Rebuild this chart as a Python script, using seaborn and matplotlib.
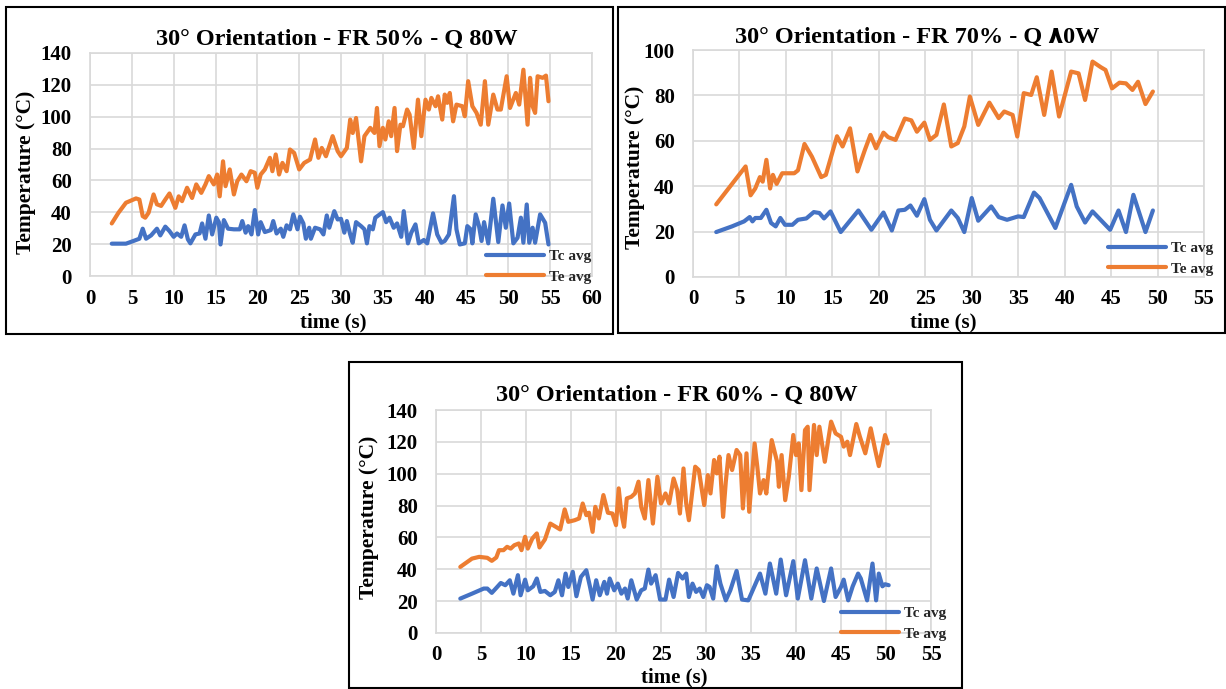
import matplotlib
matplotlib.use("Agg")
import matplotlib.pyplot as plt
import seaborn as sns
from matplotlib.patches import Rectangle

# ---------------- data ----------------
# Panel 1: FR 50%
p1_tc_time = [2.6, 4.3, 5.2, 5.9, 6.3, 6.7, 7.3, 8.0, 8.4, 9.0,
              9.5, 10.0, 10.4, 10.9, 11.3, 11.7, 12.0, 12.6, 13.1, 13.4,
              13.8, 14.2, 14.6, 15.1, 15.4, 15.6, 16.0, 16.5, 17.2, 17.9,
              18.2, 18.6, 18.9, 19.3, 19.7, 20.1, 20.4, 20.9, 21.6, 21.9,
              22.3, 22.8, 23.1, 23.5, 23.9, 24.3, 24.8, 25.1, 25.5, 25.8,
              26.2, 26.4, 26.9, 27.5, 27.9, 28.3, 28.6, 29.2, 29.6, 30.0,
              30.4, 30.7, 31.1, 31.4, 31.8, 32.4, 32.8, 33.1, 33.4, 33.8,
              34.1, 35.0, 35.4, 35.8, 36.3, 36.7, 37.2, 37.5, 38.0, 38.4,
              38.9, 39.3, 39.9, 40.3, 41.0, 41.5, 42.0, 42.4, 42.9, 43.5,
              43.8, 44.2, 44.8, 45.1, 45.5, 45.7, 46.1, 46.5, 46.8, 47.1,
              47.6, 48.2, 48.8, 49.3, 49.7, 50.1, 50.6, 51.1, 51.5, 51.8,
              52.2, 52.5, 52.9, 53.2, 53.8, 54.4, 54.8]
p1_tc = [20.3, 20.3, 22, 23.4, 29.7, 23.4, 25.5, 29.7, 25.5, 31,
         28.2, 24.6, 26.7, 24.6, 31.8, 23, 20.5, 26.1, 26.7, 33,
         23.4, 38, 26.1, 36.6, 33.8, 19.8, 35.1, 29.7, 29.3, 29.3,
         34.5, 27.2, 31.3, 26.1, 41.4, 26.1, 33.8, 27.6, 28.8, 34.5,
         26.7, 29.7, 24.6, 31.8, 29.3, 38.7, 29.3, 37.2, 33, 23.4,
         30.3, 23.4, 30.3, 29.3, 26.1, 38, 30.3, 40.7, 35.5, 35.9,
         27.2, 34.5, 26.1, 20.9, 33.8, 31.3, 29.3, 20.5, 31.3, 29.3,
         36.6, 40.1, 33.8, 36.6, 30.3, 33, 24.6, 40.7, 20.5, 27.2,
         32.4, 20.5, 22.6, 20.5, 39.3, 26.1, 20.9, 22, 26.1, 50.1,
         29.3, 19.8, 20.5, 31.3, 29.3, 20.5, 38.7, 31.3, 22, 33.8,
         20.5, 48.5, 21.3, 44.3, 30.3, 45.5, 20.5, 24, 36.6, 20.9,
         44.9, 20.9, 30.3, 20.9, 38.7, 33.4, 19.8]
p1_te_time = [2.6, 3.4, 4.3, 5.5, 5.9, 6.3, 6.6, 7.0, 7.6, 8.0,
              8.5, 9.0, 9.5, 10.2, 10.6, 11.0, 11.6, 12.2, 12.7, 13.3,
              13.8, 14.2, 14.8, 15.2, 15.5, 15.9, 16.2, 16.7, 17.2, 17.6,
              18.1, 18.7, 19.2, 19.7, 20.0, 20.4, 20.9, 21.5, 21.8, 22.2,
              22.6, 23.0, 23.5, 23.9, 24.4, 25.0, 25.6, 26.3, 26.9, 27.3,
              27.7, 28.2, 29.0, 29.6, 30.0, 30.7, 31.1, 31.4, 31.8, 32.4,
              32.8, 33.5, 34.0, 34.3, 34.6, 35.0, 35.3, 35.7, 36.0, 36.4,
              36.7, 37.1, 37.4, 37.9, 38.2, 38.7, 39.2, 39.6, 40.1, 40.5,
              40.8, 41.3, 41.6, 42.1, 42.4, 42.7, 43.0, 43.4, 43.8, 44.5,
              44.8, 45.2, 45.7, 46.2, 46.7, 47.2, 47.6, 48.2, 48.7, 49.1,
              49.8, 50.2, 50.9, 51.3, 51.8, 52.3, 52.6, 52.9, 53.2, 53.5,
              54.1, 54.5, 54.8]
p1_te = [33, 39.7, 46, 48.7, 48, 37.6, 36.6, 39.7, 51.2, 45,
         44, 48, 51.8, 42.8, 50, 47, 55.4, 49, 57.5, 52.2,
         57.5, 62.7, 57.5, 63.7, 50, 72, 56.4, 66.9, 51.2, 59.5,
         63.7, 59.5, 65.8, 64.8, 55.4, 63.7, 66.9, 74.2, 65.8, 76.3,
         63.7, 71, 65.8, 79.4, 77.3, 66.9, 71, 73.1, 85.7, 74.2,
         80.4, 75.2, 87.8, 78.4, 75.2, 80.4, 98.2, 89.8, 99.2, 72,
         87.8, 93, 89.8, 105.5, 81.5, 93, 85.7, 97.1, 87.8, 105.5,
         78.4, 95, 94, 104.5, 101.3, 80.4, 110.7, 87.8, 110.7, 104.5,
         111.8, 106.6, 112.8, 98.2, 113.9, 108.7, 114.9, 97.1, 107.6, 106.6,
         100.3, 122.3, 106.6, 102.4, 95, 122.3, 95, 113.9, 104.5, 104.5,
         125.4, 105.5, 114.9, 107.6, 129.5, 95, 124.4, 106.6, 102.4, 125.4,
         124.4, 125.8, 109.7]

# Panel 2: FR 70%
p2_tc_time = [2.5, 4.2, 5.5, 6.1, 6.4, 6.7, 7.3, 7.9, 8.4, 8.9,
              9.4, 9.9, 10.7, 11.3, 12.2, 13.0, 13.6, 14.1, 14.8, 15.9,
              17.8, 19.2, 20.5, 21.4, 22.1, 22.8, 23.4, 24.1, 24.9, 25.5,
              26.2, 27.8, 28.5, 29.2, 30.0, 30.7, 32.1, 32.9, 33.8, 35.0,
              35.6, 36.7, 37.3, 39.0, 40.7, 41.3, 42.2, 43.0, 44.9, 45.8,
              46.6, 47.4, 48.7, 49.5]
p2_tc = [19.8, 22.3, 24.5, 26.4, 24.5, 26, 26, 29.6, 23.8, 22.3,
         26, 23, 23, 25.2, 25.8, 28.6, 28.2, 25.8, 28.9, 19.8,
         29.3, 20.8, 28.4, 20.5, 29.3, 29.6, 31.5, 27, 34.3, 25.2,
         20.5, 29.3, 26, 19.8, 34.8, 24.8, 31.1, 26.4, 25.2, 26.7,
         26.4, 37.2, 34.8, 21.6, 40.6, 31.1, 24, 28.9, 20.8, 29.3,
         19.8, 36.2, 19.8, 29.3]
p2_te_time = [2.5, 5.66, 6.2, 6.7, 7.2, 7.5, 7.9, 8.3, 8.6, 9.0,
              9.6, 10.9, 11.3, 12.0, 12.8, 13.8, 14.3, 15.5, 16.1, 16.9,
              17.7, 18.5, 19.1, 19.7, 20.5, 21.0, 21.8, 22.8, 23.5, 24.1,
              24.9, 25.5, 26.2, 27.0, 27.8, 28.5, 29.2, 29.8, 30.7, 31.9,
              32.9, 33.5, 34.4, 34.9, 35.6, 36.4, 37.0, 37.8, 38.6, 39.4,
              40.7, 41.5, 42.2, 43.0, 43.9, 44.4, 45.1, 45.9, 46.6, 47.3,
              47.9, 48.7, 49.5]
p2_te = [32, 48.7, 36, 39, 44, 42, 51.6, 39, 45, 41,
         45.7, 45.7, 47, 58.6, 53, 44, 45, 62, 57.5, 65.5,
         46.5, 56, 62.6, 56.7, 63.6, 61.6, 60.4, 69.8, 69, 64,
         68, 60.4, 62.6, 76, 57.5, 59, 66.3, 79.5, 67, 76.8,
         70, 72.9, 71.4, 61.9, 81, 80.2, 88, 71.4, 90.5, 70.7,
         90.5, 89.7, 78, 94.9, 92.4, 91.2, 83.1, 85.6, 85.3, 82.4,
         86, 76.2, 81.7]

# Panel 3: FR 60%
p3_tc_time = [2.7, 4.0, 5.3, 5.7, 6.2, 6.8, 7.2, 7.7, 8.2, 8.6,
              9.1, 9.4, 9.9, 10.2, 10.8, 11.2, 11.6, 12.1, 12.7, 13.2,
              13.6, 14.0, 14.4, 14.7, 15.2, 15.6, 16.1, 16.7, 17.1, 17.4,
              17.8, 18.2, 18.7, 19.0, 19.3, 19.8, 20.2, 20.6, 21.0, 21.3,
              21.7, 22.3, 22.8, 23.2, 23.6, 23.9, 24.4, 24.9, 25.5, 25.9,
              26.4, 26.9, 27.4, 27.8, 28.1, 28.5, 28.9, 29.3, 29.7, 30.1,
              30.4, 30.8, 31.2, 31.6, 32.2, 32.7, 33.4, 34.0, 34.7, 36.0,
              36.6, 37.1, 37.8, 38.3, 38.9, 39.7, 40.2, 41.0, 41.7, 42.3,
              43.1, 43.9, 44.4, 45.0, 45.3, 45.8, 46.3, 46.9, 47.2, 47.9,
              48.5, 48.9, 49.2, 49.6, 49.9, 50.3]
p3_tc = [21.6, 24.7, 27.9, 27.9, 25.2, 28.9, 31.4, 30, 33.1, 24.7,
         36.3, 23.7, 33.5, 26.8, 29.3, 34.2, 25.8, 26.4, 23.7, 25.8,
         33.1, 23.7, 37.3, 28.9, 38.4, 23.1, 35.2, 39.4, 29.3, 21,
         33.1, 23.7, 32.1, 24.7, 34.2, 26.8, 31, 24.7, 27.9, 21.6,
         33.1, 21, 26.8, 27.9, 39.8, 31, 36.3, 21, 21, 33.5,
         22.6, 37.7, 34.2, 37.3, 22.6, 31, 25.8, 27.9, 22.6, 30,
         28.9, 21.6, 41.9, 31, 20.5, 26.8, 39, 21, 20.5, 37.3,
         24.7, 43.6, 24.7, 46.1, 23.7, 45.1, 21.6, 45.7, 21.6, 40.5,
         20.1, 40.5, 22.6, 28.9, 33.5, 20.5, 29.3, 37.3, 34.2, 20.5,
         43.6, 20.5, 37.3, 29.3, 30.6, 30]
p3_te_time = [2.7, 4.0, 4.8, 5.7, 6.2, 6.7, 7.0, 7.5, 7.9, 8.3,
              8.7, 9.2, 9.5, 9.9, 10.2, 10.7, 11.2, 11.5, 12.1, 12.7,
              13.3, 13.8, 14.3, 14.7, 15.4, 15.9, 16.3, 16.7, 17.0, 17.4,
              17.7, 18.1, 18.6, 19.1, 19.6, 20.0, 20.3, 20.6, 20.9, 21.2,
              21.7, 22.1, 22.5, 22.8, 23.2, 23.6, 24.1, 24.6, 25.0, 25.5,
              25.9, 26.4, 26.8, 27.1, 27.5, 27.8, 28.1, 28.8, 29.2, 29.8,
              30.2, 30.5, 30.9, 31.2, 31.5, 31.9, 32.2, 32.5, 32.9, 33.4,
              33.8, 34.1, 34.5, 34.8, 35.4, 35.7, 36.0, 36.4, 36.7, 37.3,
              37.9, 38.1, 38.4, 38.8, 39.2, 39.7, 40.0, 40.3, 40.6, 41.0,
              41.3, 41.5, 42.0, 42.3, 42.6, 43.2, 43.9, 44.4, 45.0, 45.3,
              45.7, 46.0, 46.7, 47.1, 47.7, 48.3, 48.8, 49.2, 49.9, 50.2]
p3_te = [41.5, 46.7, 47.8, 47.2, 45.3, 47.4, 52, 52, 54.1, 53,
         55.1, 56.2, 52, 60.4, 53, 59.3, 62.5, 53.7, 58.7, 68.7,
         66.7, 65, 77.6, 69.8, 70.8, 71.9, 81.3, 74, 75.5, 63.5,
         79.2, 71.9, 86.6, 75.5, 75, 67.7, 90.8, 75, 66.7, 84.5,
         85.5, 87.6, 95, 79.2, 71.9, 96, 68.7, 98.1, 81.3, 87.6,
         81.3, 97, 89.7, 75, 103.3, 81.3, 70.8, 104.4, 102.3, 80.3,
         99.1, 87.6, 108.6, 100.2, 110.7, 72.9, 95, 111.7, 102.3, 114.9,
         111.7, 78.2, 112.8, 76.1, 119, 104.4, 87.6, 96, 87.6, 121.1,
         107.5, 91.8, 111.7, 83.4, 98.1, 124.3, 111.7, 119, 89.7, 127.4,
         129.5, 89.7, 130.6, 111.7, 129.5, 107.5, 132.7, 125.3, 123.2, 117,
         120.1, 111.7, 131.2, 123.2, 112.8, 128.5, 114.9, 104.8, 124.3, 119]

titles = ["30° Orientation - FR 50% - Q 80W",
          "30° Orientation - FR 70% - Q \u06680W",
          "30° Orientation - FR 60% - Q 80W"]
series_labels = ["Tc avg", "Te avg"]
y_label = "Temperature (°C)"
x_label = "time (s)"

# ---------------- style ----------------
sns.set_theme(style="whitegrid")
plt.rcParams["font.family"] = ["Liberation Serif", "DejaVu Sans"]
plt.rcParams["font.weight"] = "bold"

BLUE = "#4472C4"
ORANGE = "#ED7D31"
GRID = "#d9d9d9"
W, H = 1226, 689

fig = plt.figure(figsize=(W / 100, H / 100), dpi=100)
fig.patch.set_facecolor("white")


def fx(px):
    return px / W


def fy(py):
    return 1 - py / H


layouts = [
    dict(box=(6, 7, 613, 334), ax=(90, 53, 592, 276), xmax=60, ymax=140,
         title=(337, 39), ylab=(26, 172), xlab=(333, 322),
         leg=(486, 266.5)),
    dict(box=(618, 7, 1225, 333), ax=(693, 50, 1204, 277), xmax=55, ymax=100,
         title=(917, 37), ylab=(635, 167), xlab=(943, 322),
         leg=(1108, 258.5)),
    dict(box=(349, 362, 962, 688), ax=(436, 410, 931, 633), xmax=55, ymax=140,
         title=(677, 395), ylab=(369, 517), xlab=(674, 677),
         leg=(841, 623.5)),
]
data = [
    (p1_tc_time, p1_tc, p1_te_time, p1_te),
    (p2_tc_time, p2_tc, p2_te_time, p2_te),
    (p3_tc_time, p3_tc, p3_te_time, p3_te),
]

for i, (lay, (tct, tc, tet, te)) in enumerate(zip(layouts, data)):
    bx0, by0, bx1, by1 = lay["box"]
    fig.add_artist(Rectangle((fx(bx0), fy(by1)), fx(bx1) - fx(bx0), fy(by0) - fy(by1),
                             transform=fig.transFigure, fill=False,
                             edgecolor="black", linewidth=1.5))
    ax0, ay0, ax1, ay1 = lay["ax"]
    ax = fig.add_axes([fx(ax0), fy(ay1), fx(ax1) - fx(ax0), fy(ay0) - fy(ay1)])
    ax.set_facecolor("white")
    sns.lineplot(x=tct, y=tc, ax=ax, color=BLUE, linewidth=3.0, label=series_labels[0],
                 estimator=None, sort=False, solid_joinstyle="round", solid_capstyle="round")
    sns.lineplot(x=tet, y=te, ax=ax, color=ORANGE, linewidth=3.0, label=series_labels[1],
                 estimator=None, sort=False, solid_joinstyle="round", solid_capstyle="round")
    ax.set_xlim(0, lay["xmax"])
    ax.set_ylim(0, lay["ymax"])
    ax.set_xticks(range(0, lay["xmax"] + 1, 5))
    ax.set_yticks(range(0, lay["ymax"] + 1, 20))
    ax.grid(True, color=GRID, linewidth=1.2)
    for s in ax.spines.values():
        s.set_color(GRID)
        s.set_linewidth(1.2)
    ax.tick_params(axis="both", length=0, labelsize=15, labelcolor="black")
    ax.tick_params(axis="y", pad=13)
    ax.tick_params(axis="x", pad=9)
    for lbl in ax.get_xticklabels() + ax.get_yticklabels():
        lbl.set_fontweight("bold")
    ax.set_xlabel("")
    ax.set_ylabel("")
    ax.legend(loc="center left", bbox_to_anchor=(fx(lay["leg"][0]), fy(lay["leg"][1])),
              bbox_transform=fig.transFigure, frameon=False,
              handlelength=3.8, handletextpad=0.35, borderpad=0, borderaxespad=0,
              labelspacing=0.45, prop={"weight": "bold", "size": 11})

    fig.text(fx(lay["title"][0]), fy(lay["title"][1]), titles[i], ha="center", va="center",
             fontsize=17.5, fontweight="bold", color="black")
    fig.text(fx(lay["ylab"][0]), fy(lay["ylab"][1]), y_label, ha="center", va="center",
             rotation=90, fontsize=15.5, fontweight="bold", color="black")
    fig.text(fx(lay["xlab"][0]), fy(lay["xlab"][1]), x_label, ha="center", va="center",
             fontsize=15, fontweight="bold", color="black")

fig.savefig("out.png", dpi=100, facecolor="white")
